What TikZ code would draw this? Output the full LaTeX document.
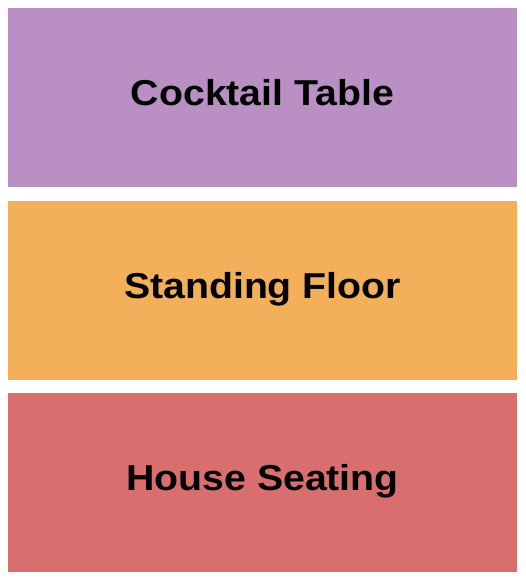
\documentclass[tikz,border=0pt]{standalone}
\usepackage{fontspec}
\setmainfont{Liberation Sans}
\newfontfamily\zonefont[FakeStretch=1.09]{Liberation Sans}
\usetikzlibrary{positioning}
\definecolor{cocktailcol}{RGB}{186,143,195}
\definecolor{standingcol}{RGB}{243,175,90}
\definecolor{housecol}{RGB}{216,110,110}
\begin{document}
\begin{tikzpicture}[
        x=1pt, y=1pt,
        node distance=13.5pt, % Зазор между секциями
        zone/.style={rectangle, inner sep=0pt, outer sep=0pt,
            minimum width=509pt, minimum height=179pt,
            text height=26pt, text depth=10pt,
            font=\zonefont\fontsize{36}{43}\selectfont\bfseries}, % Стиль секций
    ]
    \useasboundingbox (0,0) rectangle (525,-580);

    \node[zone, fill=cocktailcol, anchor=north west] (cocktail) at (8,-8) {Cocktail Table};
    \node[zone, fill=standingcol, below=of cocktail] (standing) {Standing Floor};
    \node[zone, fill=housecol, below=of standing] (house) {House Seating};

\end{tikzpicture}
\end{document}
